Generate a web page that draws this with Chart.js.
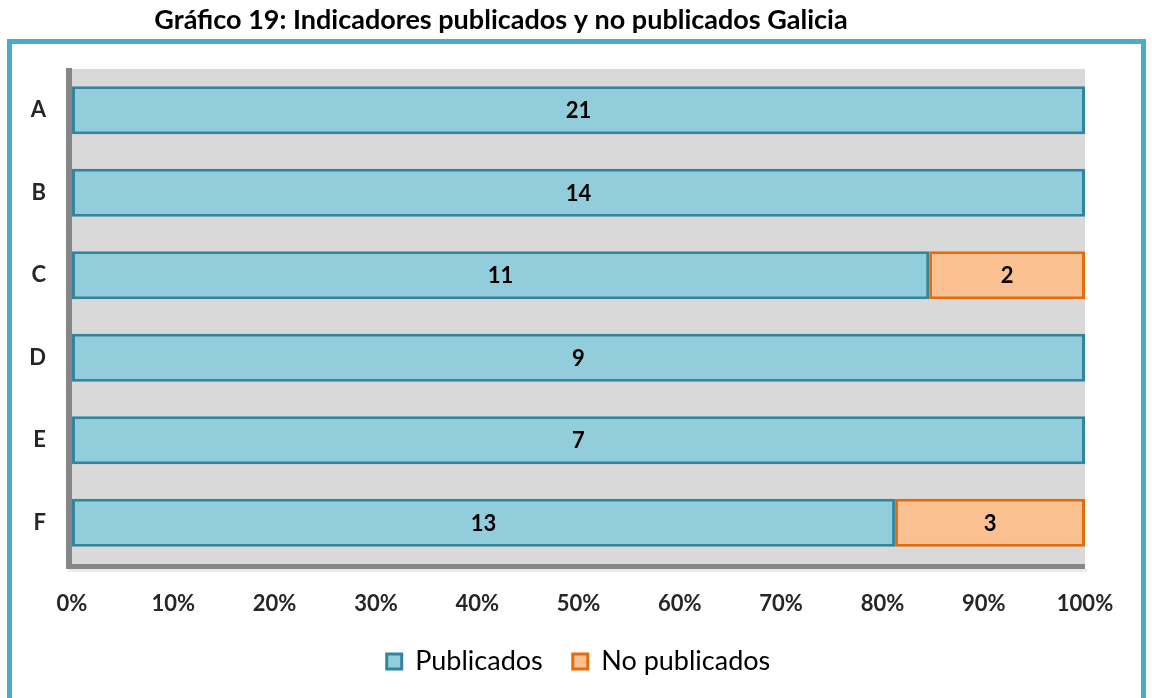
<!DOCTYPE html>
<html>
<head>
<meta charset="utf-8">
<script src="https://cdn.jsdelivr.net/npm/chart.js@4"></script>
<style>
    html, body { margin: 0; padding: 0; background: #ffffff; }
    #wrap { width: 1152px; height: 698px; position: relative; }
</style>
</head>
<body>
<div id="wrap"><canvas id="chart" width="1152" height="698"></canvas></div>
<script>
// Chart data
const categories = ['A', 'B', 'C', 'D', 'E', 'F'];
const publicados = [21, 14, 11, 9, 7, 13];
const noPublicados = [0, 0, 2, 0, 0, 3];
const tickValues = [0, 10, 20, 30, 40, 50, 60, 70, 80, 90, 100];
const titleText = 'Gráfico 19: Indicadores publicados y no publicados Galicia';

const FONT = 'Lato, "Open Sans", sans-serif';

// 100% stacked: share of each row total
const toShare = (arr) => arr.map((v, i) => v * 100 / (publicados[i] + noPublicados[i]));

// Frame, title and plot background
const framePlugin = {
    id: 'frame',
    beforeDraw: function(chart) {
        const ctx = chart.ctx;
        const area = chart.chartArea;
        ctx.save();
        ctx.fillStyle = '#ffffff';
        ctx.fillRect(0, 0, chart.width, chart.height);
        // outer border
        ctx.strokeStyle = '#4bacc6';
        ctx.lineWidth = 5;
        ctx.strokeRect(9.5, 41.5, 1134, 700);
        // title
        ctx.fillStyle = '#000000';
        ctx.font = 'bold 27px ' + FONT;
        ctx.textBaseline = 'middle';
        ctx.textAlign = 'center';
        ctx.fillText(titleText, 501, 20);
        // plot background
        ctx.fillStyle = '#d9d9d9';
        ctx.fillRect(area.left, area.top, area.right - area.left, area.bottom - area.top);
        // walls (left + floor)
        ctx.fillStyle = 'rgba(0,0,0,0.08)';
        ctx.fillRect(area.left - 4, area.bottom + 5, area.right - area.left + 6, 3);
        ctx.fillStyle = '#868686';
        ctx.fillRect(area.left - 6, area.top - 1, 6, area.bottom - area.top + 6);
        ctx.fillRect(area.left - 6, area.bottom, area.right - area.left + 6, 5);
        ctx.restore();
    }
};

// Value labels in the middle of each segment
const labelPlugin = {
    id: 'segLabels',
    afterDatasetsDraw: function(chart) {
        const ctx = chart.ctx;
        const raw = [publicados, noPublicados];
        ctx.save();
        ctx.fillStyle = '#000000';
        ctx.font = 'bold 22px ' + FONT;
        ctx.textAlign = 'center';
        ctx.textBaseline = 'middle';
        chart.data.datasets.forEach((ds, di) => {
            chart.getDatasetMeta(di).data.forEach((bar, i) => {
                const v = raw[di][i];
                if (!v) return;
                ctx.fillText(String(v), (bar.x + bar.base) / 2, bar.y + 1);
            });
        });
        ctx.restore();
    }
};

new Chart(document.getElementById('chart'), {
    type: 'bar',
    data: {
        labels: categories,
        datasets: [
            {
                label: 'Publicados',
                data: toShare(publicados),
                backgroundColor: '#92cddc',
                borderColor: '#31859c',
                borderWidth: 3,
                borderSkipped: false,
                categoryPercentage: 1,
                barPercentage: 0.58
            },
            {
                label: 'No publicados',
                data: toShare(noPublicados),
                backgroundColor: '#fac090',
                borderColor: '#e46c0a',
                borderWidth: 3,
                borderSkipped: false,
                categoryPercentage: 1,
                barPercentage: 0.58
            }
        ]
    },
    options: {
        indexAxis: 'y',
        responsive: false,
        animation: false,
        events: [],
        layout: { padding: { top: 69, left: 0, right: 67, bottom: 13 } },
        scales: {
            x: {
                stacked: true,
                min: 0,
                max: 100,
                afterBuildTicks: function(scale) {
                    scale.ticks = tickValues.map(v => ({ value: v }));
                },
                afterFit: function(scale) { scale.height = 54; },
                grid: { display: false, drawTicks: false },
                border: { display: false },
                ticks: {
                    padding: 27,
                    color: '#262626',
                    font: { family: FONT, size: 22, weight: 'bold' },
                    callback: v => v + '%'
                }
            },
            y: {
                stacked: true,
                afterFit: function(scale) { scale.width = 72; },
                grid: { display: false, drawTicks: false },
                border: { display: false },
                ticks: {
                    padding: 26,
                    color: '#262626',
                    font: { family: FONT, size: 22, weight: 'bold' }
                }
            }
        },
        plugins: {
            title: { display: false },
            tooltip: { enabled: false },
            legend: {
                position: 'bottom',
                fullSize: false,
                labels: {
                    boxWidth: 15,
                    boxHeight: 15,
                    padding: 30,
                    color: '#000000',
                    font: { family: FONT, size: 27 }
                }
            }
        }
    },
    plugins: [framePlugin, labelPlugin]
});
</script>
</body>
</html>
